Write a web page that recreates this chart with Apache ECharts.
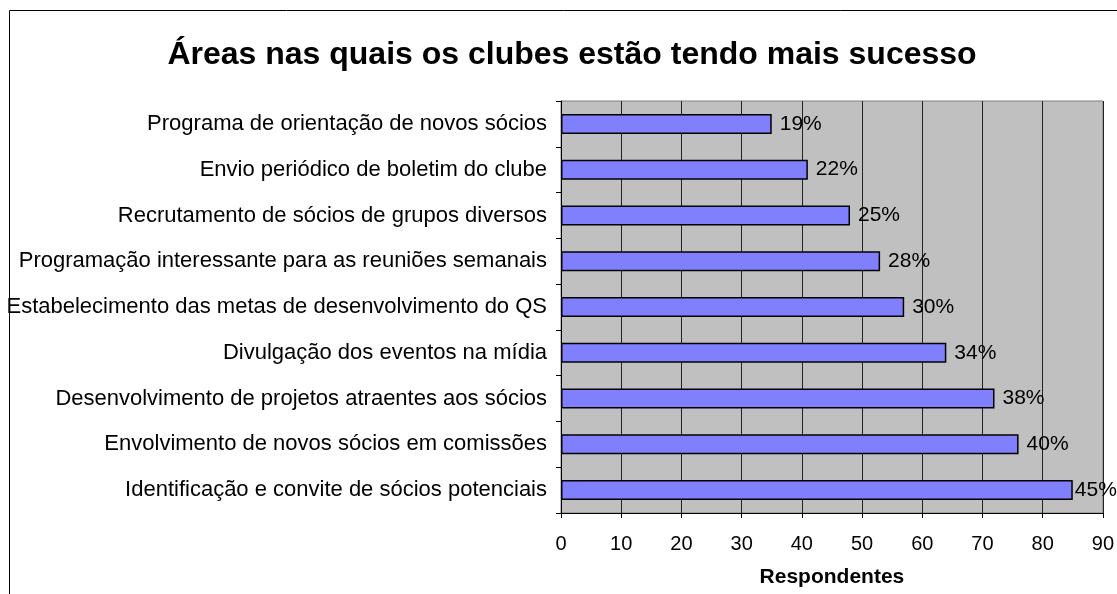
<!DOCTYPE html>
<html>
<head>
<meta charset="utf-8">
<script src="https://cdn.jsdelivr.net/npm/echarts@6/dist/echarts.min.js"></script>
<style>
html,body{margin:0;padding:0;background:#fff;}
#chart{width:1117px;height:594px;}
</style>
</head>
<body>
<div id="chart"></div>
<script>
const categories = [
  "Programa de orientação de novos sócios",
  "Envio periódico de boletim do clube",
  "Recrutamento de sócios de grupos diversos",
  "Programação interessante para as reuniões semanais",
  "Estabelecimento das metas de desenvolvimento do QS",
  "Divulgação dos eventos na mídia",
  "Desenvolvimento de projetos atraentes aos sócios",
  "Envolvimento de novos sócios em comissões",
  "Identificação e convite de sócios potenciais"
];
const respondentes = [35, 41, 48, 53, 57, 64, 72, 76, 85];
const percentLabels = ["19%", "22%", "25%", "28%", "30%", "34%", "38%", "40%", "45%"];
const xTicks = [0, 10, 20, 30, 40, 50, 60, 70, 80, 90];

const FONT = '"Liberation Sans", Arial, sans-serif';
const chart = echarts.init(document.getElementById('chart'), null, {renderer: 'canvas'});

const seriesData = respondentes.map((v, i) => ({
  value: v,
  label: { distance: i === respondentes.length - 1 ? 2 : 8 }
}));

chart.setOption({
  animation: false,
  backgroundColor: '#ffffff',
  title: {
    text: 'Áreas nas quais os clubes estão tendo mais sucesso',
    left: 567,
    top: 34,
    textAlign: 'center',
    textStyle: { fontFamily: FONT, fontSize: 32, fontWeight: 'bold', color: '#000' }
  },
  graphic: [{
    type: 'rect',
    shape: { x: 9.5, y: 10.5, width: 1200, height: 700 },
    style: { fill: 'none', stroke: '#000', lineWidth: 1 },
    silent: true, z: 100
  }],
  grid: {
    left: 561, top: 101, width: 543, height: 412,
    show: true, backgroundColor: '#C0C0C0', borderColor: '#808080', borderWidth: 1
  },
  xAxis: {
    type: 'value', min: xTicks[0], max: xTicks[xTicks.length - 1], interval: 10,
    axisLine: { show: true, lineStyle: { color: '#000', width: 1 } },
    axisTick: { show: true, length: 5, lineStyle: { color: '#000' } },
    splitLine: { show: true, lineStyle: { color: '#222', width: 1 } },
    axisLabel: { fontFamily: FONT, fontSize: 20, color: '#000', margin: 21 },
    name: 'Respondentes',
    nameLocation: 'middle',
    nameGap: 54,
    nameTextStyle: { fontFamily: FONT, fontSize: 21, fontWeight: 'bold', color: '#000' }
  },
  yAxis: {
    type: 'category', data: categories, inverse: true,
    axisLine: { show: true, lineStyle: { color: '#000', width: 1 } },
    axisTick: { show: true, length: 5, lineStyle: { color: '#000' } },
    axisLabel: { fontFamily: FONT, fontSize: 22, color: '#000', margin: 14 }
  },
  series: [{
    type: 'bar',
    data: seriesData,
    barWidth: 20,
    itemStyle: { color: '#8080FF', borderColor: '#000', borderWidth: 1.5 },
    label: {
      show: true, position: 'right',
      fontFamily: FONT, fontSize: 21, color: '#000',
      formatter: p => percentLabels[p.dataIndex]
    }
  }]
});
</script>
</body>
</html>
